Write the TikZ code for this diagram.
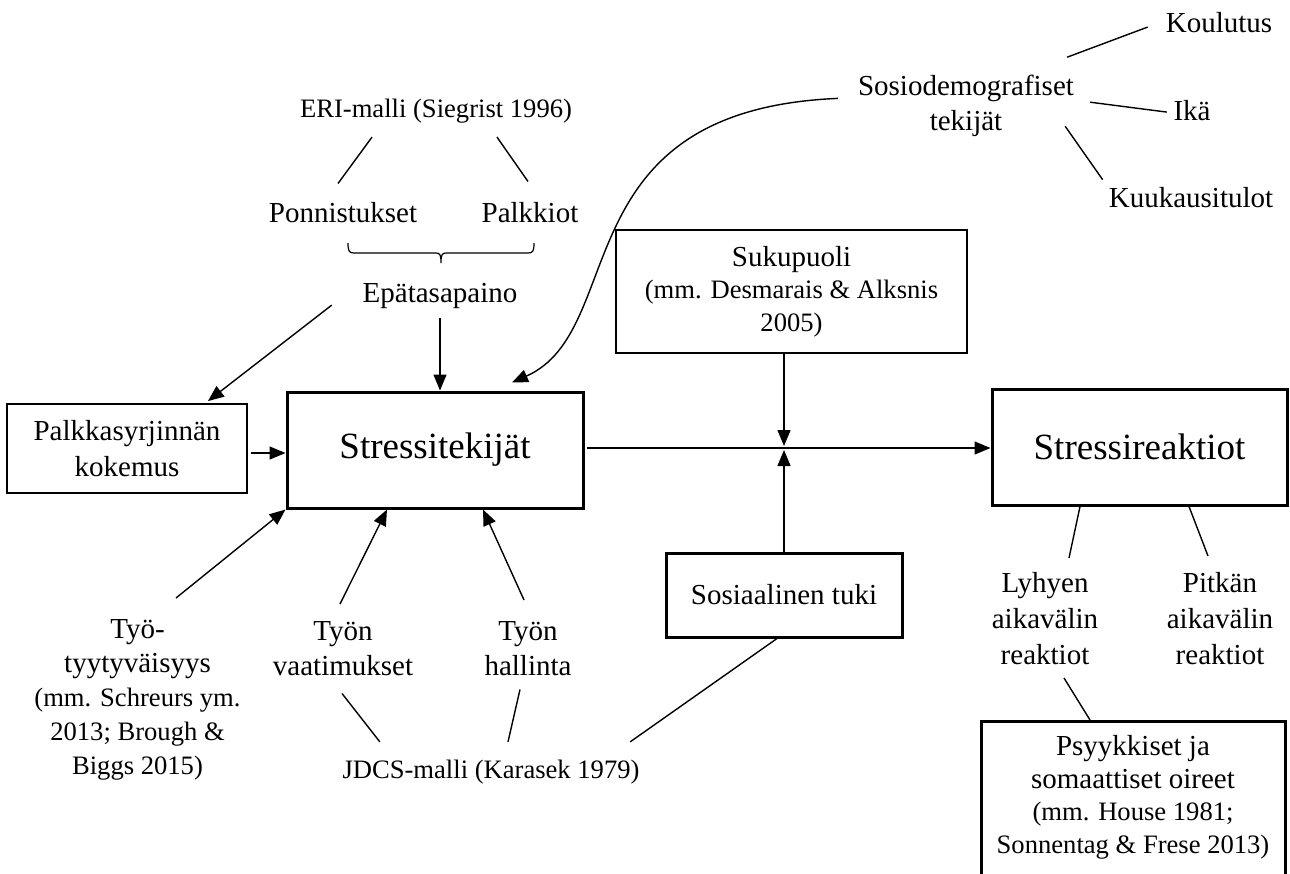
\documentclass[tikz,border=0pt]{standalone}
\usepackage{fontspec}
\setmainfont{Liberation Serif}
\usetikzlibrary{arrows.meta,calc}
\newcommand\fsA{\fontsize{29pt}{36pt}\selectfont}
\newcommand\fsB{\fontsize{26.6pt}{33pt}\selectfont}
\newcommand\fsC{\fontsize{37pt}{44pt}\selectfont}
\begin{document}
\begin{tikzpicture}[x=1pt,y=-1pt,
  txt/.style={inner sep=0pt, font=\fsA, align=center},
  thinbox/.style={draw, line width=1.8pt, inner sep=0pt, align=center},
  thickbox/.style={draw, line width=3pt, inner sep=0pt, align=center},
  conn/.style={line width=1.4pt},
  arr/.style={conn, -{Triangle[length=16pt,width=13pt]}},
]
\clip (0,0) rectangle (1290,873);
\fill[white] (0,0) rectangle (1290,873);

% ---------- text nodes ----------
\node[txt, anchor=base] (kou) at (1219,32) {Koulutus};
\node[txt, anchor=north, font={\fontsize{29pt}{35pt}\selectfont}] (sos) at (966,75.2) {Sosiodemografiset\\tekijät};
\node[txt, anchor=base] (ika) at (1192,120) {Ikä};
\node[txt, anchor=base] (kuu) at (1191,207) {Kuukausitulot};
\node[txt, anchor=base, font=\fsB] (eri) at (436,117) {ERI-malli (Siegrist 1996)};
\node[txt, anchor=base] (pon) at (343,222) {Ponnistukset};
\node[txt, anchor=base] (pal) at (530,222) {Palkkiot};
\node[txt, anchor=base] (epa) at (440,302) {Epätasapaino};

\node[txt, anchor=north, font={\fontsize{26.6pt}{34pt}\selectfont}] (tyt) at (137.5,618.8)
  {{\fontsize{29pt}{34pt}\selectfont Työ-}\\{\fontsize{29pt}{34pt}\selectfont tyytyväisyys}\\(mm. Schreurs ym.\\2013; Brough \&\\Biggs 2015)};
\node[txt, anchor=north, font={\fontsize{29pt}{35pt}\selectfont}] (tv) at (343,620.8) {Työn\\vaatimukset};
\node[txt, anchor=north, font={\fontsize{29pt}{35pt}\selectfont}] (th) at (528,620.8) {Työn\\hallinta};
\node[txt, anchor=base, font=\fsB] (jd) at (491,778) {JDCS-malli (Karasek 1979)};

\node[txt, anchor=north] (lyh) at (1045,572.2) {Lyhyen\\aikavälin\\reaktiot};
\node[txt, anchor=north] (pit) at (1220,572.2) {Pitkän\\aikavälin\\reaktiot};

% ---------- boxes ----------
\node[thinbox, font=\fsA, minimum width=240pt, minimum height=89pt] (psk) at (127,448.5) {Palkkasyrjinnän\\kokemus};
\node[thickbox, font=\fsC, minimum width=296pt, minimum height=116pt] (st) at (435,450) {Stressitekijät};
\node[thickbox, font=\fsC, minimum width=295pt, minimum height=116pt] (rea) at (1139.5,447) {Stressireaktiot};
\node[thinbox, font={\fontsize{26.6pt}{32.5pt}\selectfont}, minimum width=351pt, minimum height=123pt] (suk) at (791.5,291.5)
  {{\fontsize{29pt}{32.5pt}\selectfont Sukupuoli}\\(mm. Desmarais \& Alksnis\\2005)};
\node[thickbox, font=\fsA, minimum width=236pt, minimum height=84pt] (sot) at (784,595) {Sosiaalinen tuki};
\node[thickbox, minimum width=304pt, minimum height=170pt, anchor=north] (psy) at (1133,720) {};
\node[txt, anchor=north, font={\fontsize{26.6pt}{32.7pt}\selectfont}] (psyt) at (1133,735.2)
  {{\fontsize{29pt}{32.7pt}\selectfont Psyykkiset ja}\\{\fontsize{29pt}{32.7pt}\selectfont somaattiset oireet}\\(mm. House 1981;\\Sonnentag \& Frese 2013)};

\coordinate (mid) at (784,448);

% ---------- connectors ----------
% sosiodemografiset
\draw[conn] ($(sos.north east)+(-7,-18)$) -- ($(kou.west)+(-18,5)$);
\draw[conn] ($(sos.east)+(16,-4)$) -- ($(ika.west)+(-6.5,2)$);
\draw[conn] ($(sos.south east)+(-9,-11)$) -- ($(kuu.north west)+(-6,-7)$);
% ERI
\draw[conn] ($(eri.south)+(-64,14.2)$) -- ($(pon.north)+(-5,-18.2)$);
\draw[conn] ($(eri.south)+(61,14.2)$) -- ($(pal.north)+(-2,-20.2)$);
% brace
\draw[line width=1.2pt] (348,243) .. controls (348,251) and (349,253) .. (354,253) -- (436,253)
  .. controls (440,253) and (441,255) .. (441,263)
  .. controls (441,255) and (442,253) .. (446,253) -- (528,253)
  .. controls (533,253) and (534,251) .. (534,243);
% arrows into Stressitekijat
\draw[arr] ($(epa.south)+(0,10)$) -- (epa.south |- st.north);
\draw[arr] ($(epa.south west)+(-30.7,-3.3)$) -- ($(psk.north east)+(-40,-2)$);
\draw[arr] ($(psk.east)+(3,4.5)$) -- ($(st.west)+(0,3)$);
\draw[arr] ($(sos.west)+(-20,-7.8)$) .. controls (560,110) and (630,330) .. ($(st.north)+(77,-8)$);
\draw[arr] ($(tyt.north)+(38.5,-20.8)$) -- (st.south west);
\draw[arr] ($(tv.north)+(-3,-16.8)$) -- ($(st.south)+(-48,0)$);
\draw[arr] ($(th.north)+(-4,-20.8)$) -- ($(st.south)+(48,0)$);
% JDCS
\draw[conn] ($(tv.south)+(-1,18)$) -- ($(jd.north west)+(37.5,-17.5)$);
\draw[conn] ($(th.south)+(-8,14)$) -- ($(jd.north)+(17,-17.5)$);
\draw[conn] ($(sot.south)+(-7,0)$) -- ($(jd.north east)+(-9.5,-17.5)$);
% main line and moderators
\draw[arr] ($(st.east)+(2,-2)$) -- ($(rea.west)+(0,1)$);
\draw[arr] ($(suk.south)+(-7.5,0)$) -- ($(mid)+(0,-2)$);
\draw[arr] (sot.north) -- ($(mid)+(0,2)$);
% reactions
\draw[conn] ($(rea.south)+(-59.5,0)$) -- ($(lyh.north)+(24,-14.2)$);
\draw[conn] ($(rea.south)+(49.5,0)$) -- ($(pit.north)+(-12,-16.2)$);
\draw[conn] ($(lyh.south)+(19,13)$) -- ($(psy.north)+(-43,0)$);
\end{tikzpicture}
\end{document}
